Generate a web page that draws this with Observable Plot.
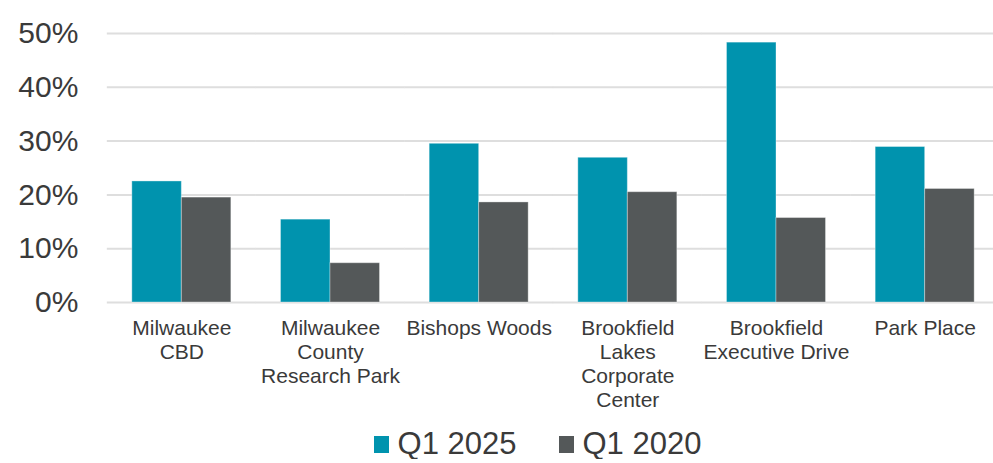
<!DOCTYPE html>
<html>
<head>
<meta charset="utf-8">
<script src="https://cdn.jsdelivr.net/npm/d3@7"></script>
<script src="https://cdn.jsdelivr.net/npm/@observablehq/plot@0.6"></script>
<style>
  html, body { margin: 0; padding: 0; background: #fff; overflow: hidden; }
  #chart { width: 993px; }
  .legend { display: flex; justify-content: center; align-items: center; height: 30px; line-height: 30px; margin-top: 9px; padding-left: 82px;
    font-family: "Liberation Sans", Arial, sans-serif; font-size: 31px; color: #3a3a3a; }
  .legend .item { display: flex; align-items: center; margin: 0 21px; }
  .legend .sw { width: 15px; height: 17px; margin-right: 9px; }
</style>
</head>
<body>
<div id="chart"></div>
<script>
const categories = ["Milwaukee CBD", "Milwaukee County Research Park", "Bishops Woods", "Brookfield Lakes Corporate Center", "Brookfield Executive Drive", "Park Place"];
const tickLabels = ["Milwaukee\nCBD", "Milwaukee\nCounty\nResearch Park", "Bishops Woods", "Brookfield\nLakes\nCorporate\nCenter", "Brookfield\nExecutive Drive", "Park Place"];
const series = ["Q1 2025", "Q1 2020"];
const colors = ["#0093ae", "#545859"];
const q1_2025 = [22.5, 15.4, 29.5, 26.9, 48.3, 28.9];
const q1_2020 = [19.5, 7.3, 18.6, 20.5, 15.7, 21.1];
const yTicks = [0, 10, 20, 30, 40, 50];

const data = [];
categories.forEach((c, i) => {
  data.push({category: c, series: series[0], value: q1_2025[i]});
  data.push({category: c, series: series[1], value: q1_2020[i]});
});

const chart = Plot.plot({
  width: 993,
  height: 420,
  marginLeft: 107,
  marginRight: -6,
  marginTop: 33,
  marginBottom: 118,
  style: {fontFamily: "'Liberation Sans', Arial, sans-serif", color: "#3a3a3a", background: "#fff", overflow: "hidden"},
  fx: {domain: categories, paddingInner: 0.334, paddingOuter: 0.167, round: false, label: null, axis: null},
  x: {domain: series, padding: 0, round: false, axis: null},
  y: {domain: [0, 50], axis: null},
  color: {domain: series, range: colors},
  marks: [
    Plot.ruleY(yTicks, {stroke: "#dedede", strokeWidth: 2, insetLeft: -25, insetRight: -25}),
    Plot.barY(data, {fx: "category", x: "series", y: "value", fill: "series", stroke: "#ffffff", strokeOpacity: 0.35, strokeWidth: 1}),
    Plot.axisY({ticks: yTicks, tickFormat: d => d + "%", tickSize: 0, tickPadding: 54, fontSize: 30, label: null}),
    Plot.axisFx({anchor: "bottom", tickFormat: d => tickLabels[categories.indexOf(d)], tickSize: 0, tickPadding: 15, fontSize: 21, lineHeight: 1.15, label: null})
  ]
});
document.getElementById("chart").appendChild(chart);

const legend = document.createElement("div");
legend.className = "legend";
series.forEach((s, i) => {
  const item = document.createElement("div");
  item.className = "item";
  const sw = document.createElement("div");
  sw.className = "sw";
  sw.style.background = colors[i];
  const t = document.createElement("span");
  t.textContent = s;
  item.appendChild(sw);
  item.appendChild(t);
  legend.appendChild(item);
});
document.getElementById("chart").appendChild(legend);
</script>
</body>
</html>
